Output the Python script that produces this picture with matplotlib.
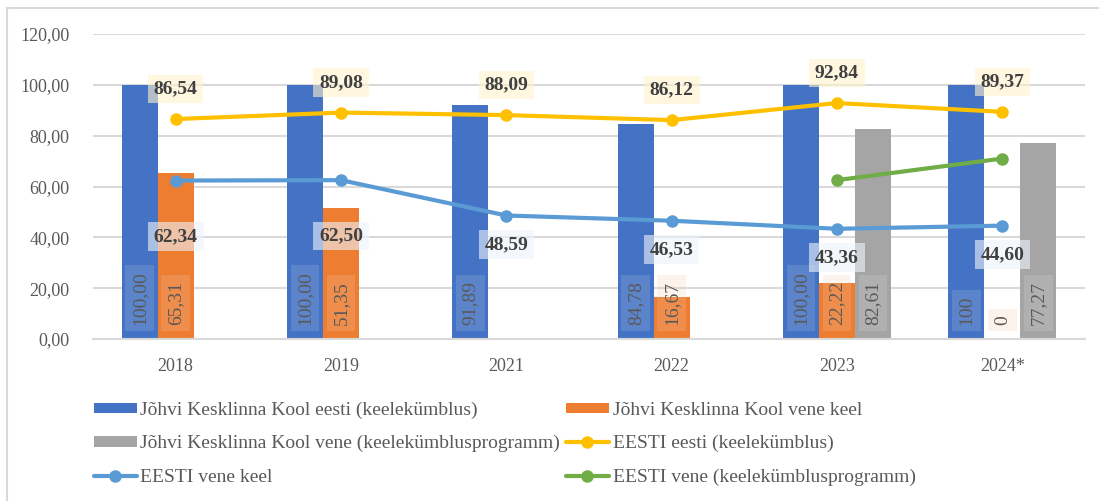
import matplotlib.pyplot as plt
import numpy as np
from matplotlib.patches import Rectangle

plt.rcParams['font.family'] = ['Liberation Serif', 'DejaVu Serif']

years = ["2018", "2019", "2021", "2022", "2023", "2024*"]

# bars (Jõhvi Kesklinna Kool)
kool_eesti = [100.00, 100.00, 91.89, 84.78, 100.00, 100]
kool_vene = [65.31, 51.35, np.nan, 16.67, 22.22, 0]
kool_vene_prog = [np.nan, np.nan, np.nan, np.nan, 82.61, 77.27]
kool_eesti_lbl = ["100,00", "100,00", "91,89", "84,78", "100,00", "100"]
kool_vene_lbl = ["65,31", "51,35", "", "16,67", "22,22", "0"]
kool_vene_prog_lbl = ["", "", "", "", "82,61", "77,27"]

# lines (EESTI)
eesti_eesti = [86.54, 89.08, 88.09, 86.12, 92.84, 89.37]
eesti_vene = [62.34, 62.50, 48.59, 46.53, 43.36, 44.60]
eesti_vene_prog = [np.nan, np.nan, np.nan, np.nan, 62.5, 71.0]

W, H = 1099, 501
fig = plt.figure(figsize=(W / 100, H / 100), dpi=100)
ax = fig.add_axes([93 / W, 162 / H, 992 / W, 305 / H])

x = np.arange(len(years))
bw = 0.218
txt_gray = '#595959'

bar_series = [
    (kool_eesti, kool_eesti_lbl, '#4472C4', '#B4C7E7', -bw, "Jõhvi Kesklinna Kool eesti (keelekümblus)"),
    (kool_vene, kool_vene_lbl, '#ED7D31', '#F8CBAD', 0, "Jõhvi Kesklinna Kool vene keel"),
    (kool_vene_prog, kool_vene_prog_lbl, '#A5A5A5', '#DBDBDB', bw, "Jõhvi Kesklinna Kool vene (keelekümblusprogramm)"),
]
handles = {}
for vals, lbls, col, tint, off, name in bar_series:
    h = ax.bar(x + off, vals, bw, color=col, zorder=2, label=name)
    handles[name] = h
    for xi, t in zip(x, lbls):
        if t:
            ax.annotate(t, (xi + off, 0), xytext=(0, 14), textcoords='offset pixels',
                        rotation=90, ha='center', va='bottom', fontsize=14, color=txt_gray,
                        zorder=5,
                        bbox=dict(boxstyle='square,pad=0.3', fc=tint, ec='none', alpha=0.22))

line_series = [
    (eesti_eesti, '#FFC000', "EESTI eesti (keelekümblus)"),
    (eesti_vene, '#5B9BD5', "EESTI vene keel"),
    (eesti_vene_prog, '#70AD47', "EESTI vene (keelekümblusprogramm)"),
]
for vals, col, name in line_series:
    h, = ax.plot(x, vals, color=col, lw=3, marker='o', ms=8, zorder=3,
                 solid_capstyle='round', label=name)
    handles[name] = h

# value labels on the lines
for xi, v in zip(x, eesti_eesti):
    ax.annotate(f"{v:.2f}".replace('.', ','), (xi, v), xytext=(0, 30), textcoords='offset pixels',
                ha='center', va='center', fontsize=14, fontweight='bold', color='#404040', zorder=6,
                bbox=dict(boxstyle='square,pad=0.3', fc='#FFF2CC', ec='none', alpha=0.6))
blue_off = [-56, -56, -29, -29, -29, -29]
for xi, v, o in zip(x, eesti_vene, blue_off):
    ax.annotate(f"{v:.2f}".replace('.', ','), (xi, v), xytext=(0, o), textcoords='offset pixels',
                ha='center', va='center', fontsize=14, fontweight='bold', color='#404040', zorder=6,
                bbox=dict(boxstyle='square,pad=0.3', fc='#EEF3FA', ec='none', alpha=0.6))

ax.set_xlim(-0.5, len(years) - 0.5)
ax.set_ylim(0, 120)
ax.set_yticks(np.arange(0, 121, 20))
ax.set_yticklabels([f"{t:.2f}".replace('.', ',') for t in np.arange(0, 121, 20)])
ax.set_xticks(x)
ax.set_xticklabels(years)
ax.tick_params(axis='both', length=0, labelsize=13, labelcolor=txt_gray)
ax.tick_params(axis='y', pad=17)
ax.tick_params(axis='x', pad=14)
ax.grid(axis='y', color='#D9D9D9', lw=1.5, zorder=0)
ax.set_axisbelow(True)
for s in ['top', 'right', 'left']:
    ax.spines[s].set_visible(False)
ax.spines['bottom'].set_color('#D9D9D9')
ax.spines['bottom'].set_linewidth(1.5)

order = ["Jõhvi Kesklinna Kool eesti (keelekümblus)",
         "Jõhvi Kesklinna Kool vene (keelekümblusprogramm)",
         "EESTI vene keel",
         "Jõhvi Kesklinna Kool vene keel",
         "EESTI eesti (keelekümblus)",
         "EESTI vene (keelekümblusprogramm)"]
leg = fig.legend([handles[k] for k in order], order, ncol=2, loc='upper left',
                 bbox_to_anchor=(84 / W, 1 - 392 / H), frameon=False, fontsize=14,
                 handlelength=2.2, handleheight=0.45, handletextpad=0.2,
                 columnspacing=0.3, labelspacing=0.83, borderpad=0)
for t in leg.get_texts():
    t.set_color(txt_gray)

# chart frame
fig.patches.append(Rectangle((7 / W, -0.1), 1.2, 1.1 - 8 / H, transform=fig.transFigure,
                             fill=False, ec='#D9D9D9', lw=1.5))

fig.savefig('out.png', dpi=100)
